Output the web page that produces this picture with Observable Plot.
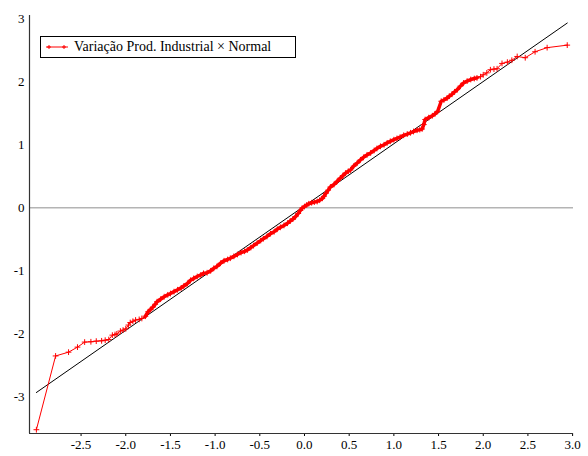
<!DOCTYPE html>
<html>
<head>
<meta charset="utf-8">
<script src="https://cdn.jsdelivr.net/npm/d3@7"></script>
<script src="https://cdn.jsdelivr.net/npm/@observablehq/plot@0.6"></script>
<style>
  html, body { margin: 0; padding: 0; background: #fff; }
  #wrap { position: relative; width: 588px; height: 456px; }
  #legend {
    position: absolute; left: 40px; top: 36px; width: 254px; height: 20px;
    border: 1px solid #000; background: #fff;
    font-family: "Liberation Serif", "Times New Roman", Times, "DejaVu Serif", serif; font-size: 14px;
    display: flex; align-items: center; box-sizing: content-box;
  }
  #legend svg { margin-left: 4px; margin-right: 5px; }
  #chart svg, #chart svg text { font-family: "Liberation Serif", "Times New Roman", Times, "DejaVu Serif", serif; }
</style>
</head>
<body>
<div id="wrap">
  <div id="chart"></div>
  <div id="legend">
    <svg width="24" height="10"><line x1="1" y1="5" x2="23" y2="5" stroke="red" stroke-width="1"/><path d="M4,3v4M2,5h4M19,3v4M17,5h4" stroke="red" stroke-width="1"/></svg>
    <span id="legendText"></span>
  </div>
</div>
<script>
const seriesName = "Variação Prod. Industrial × Normal";
// Theoretical normal quantiles (x) and sample quantiles (y)
const theoretical = [
  -3.00, -2.785, -2.64, -2.54, -2.46, -2.39, -2.33, -2.27, -2.23, -2.19,
  -2.15, -2.12, -2.10, -2.06, -2.03, -2.00, -1.97, -1.95, -1.92, -1.89,
  -1.85, -1.82, -1.78, -1.75, -1.72, -1.70, -1.67, -1.65, -1.61, -1.57,
  -1.53, -1.50, -1.46, -1.42, -1.38, -1.35, -1.31, -1.275, -1.24, -1.20,
  -1.16, -1.13, -1.09, -1.05, -1.015, -0.98, -0.94, -0.90, -0.86, -0.83,
  -0.79, -0.75, -0.71, -0.67, -0.64, -0.60, -0.57, -0.53, -0.49, -0.46,
  -0.42, -0.38, -0.34, -0.305, -0.27, -0.23, -0.19, -0.16, -0.13, -0.10,
  -0.07, -0.045, -0.026, 0.00, 0.025, 0.048, 0.08, 0.11, 0.142, 0.17,
  0.20, 0.216, 0.24, 0.265, 0.29, 0.33, 0.366, 0.40, 0.43, 0.46,
  0.49, 0.515, 0.55, 0.59, 0.626, 0.66, 0.70, 0.74, 0.78, 0.81,
  0.85, 0.89, 0.925, 0.96, 1.00, 1.035, 1.07, 1.11, 1.15, 1.186,
  1.22, 1.26, 1.29, 1.316, 1.335, 1.35, 1.39, 1.43, 1.46, 1.49,
  1.53, 1.56, 1.596, 1.62, 1.65, 1.68, 1.71, 1.745, 1.78, 1.82,
  1.86, 1.90, 1.93, 1.97, 2.00, 2.04, 2.08, 2.12, 2.155, 2.21,
  2.27, 2.32, 2.38, 2.47, 2.58, 2.715, 2.94
];
const sample = [
  -3.52, -2.35, -2.29, -2.21, -2.13, -2.125, -2.115, -2.11, -2.10, -2.09,
  -2.02, -2.01, -2.00, -1.955, -1.94, -1.92, -1.86, -1.82, -1.80, -1.78,
  -1.77, -1.755, -1.72, -1.65, -1.61, -1.58, -1.53, -1.49, -1.45, -1.41,
  -1.38, -1.36, -1.33, -1.30, -1.27, -1.24, -1.20, -1.15, -1.12, -1.09,
  -1.065, -1.04, -1.03, -1.00, -0.96, -0.93, -0.88, -0.84, -0.82, -0.80,
  -0.77, -0.74, -0.71, -0.69, -0.67, -0.63, -0.60, -0.56, -0.52, -0.49,
  -0.455, -0.41, -0.38, -0.34, -0.31, -0.28, -0.245, -0.21, -0.18, -0.14,
  -0.09, -0.04, -0.005, 0.02, 0.045, 0.064, 0.08, 0.09, 0.10, 0.12,
  0.15, 0.18, 0.23, 0.28, 0.33, 0.37, 0.42, 0.47, 0.51, 0.55,
  0.58, 0.60, 0.66, 0.71, 0.76, 0.80, 0.84, 0.87, 0.91, 0.94,
  0.975, 1.00, 1.03, 1.055, 1.08, 1.10, 1.12, 1.15, 1.17, 1.19,
  1.21, 1.23, 1.24, 1.25, 1.32, 1.40, 1.43, 1.46, 1.49, 1.53,
  1.69, 1.71, 1.74, 1.77, 1.80, 1.84, 1.875, 1.93, 1.98, 2.01,
  2.035, 2.05, 2.06, 2.08, 2.11, 2.14, 2.19, 2.20, 2.205, 2.29,
  2.31, 2.34, 2.40, 2.38, 2.475, 2.54, 2.58
];
// Reference line (fitted normal line) end points
const refX = [-3.0, 2.94];
const refY = [-2.93, 2.93];
const xTicks = [-2.5, -2.0, -1.5, -1.0, -0.5, 0.0, 0.5, 1.0, 1.5, 2.0, 2.5, 3.0];
const yTicks = [-3, -2, -1, 0, 1, 2, 3];
const xDomain = [-3.077, 3.01];
const yDomain = [-3.58, 3.05];

document.getElementById("legendText").textContent = seriesName;

const pts = theoretical.map((x, i) => ({x, y: sample[i]}));
const dense = pts.filter(d => d.x > -1.8 && d.x < 1.95);
const ref = refX.map((x, i) => ({x, y: refY[i]}));
const fmtX = d => d3.format(".1f")(d).replace("−", "-");
const fmtY = d => String(d).replace("−", "-");
const serif = "'Liberation Serif', 'Times New Roman', Times, 'DejaVu Serif', serif";

const chart = Plot.plot({
  width: 588,
  height: 456,
  marginLeft: 29,
  marginRight: 15,
  marginTop: 15,
  marginBottom: 23,
  style: {fontFamily: serif, fontSize: "13px", color: "#000", background: "#fff"},
  x: {domain: xDomain, ticks: xTicks, tickFormat: fmtX, tickSize: 3, tickPadding: 3, label: null},
  y: {domain: yDomain, ticks: yTicks, tickFormat: fmtY, tickSize: 0, tickPadding: 5, label: null},
  marks: [
    Plot.ruleY([0], {stroke: "#b4b4b4", strokeWidth: 1.5}),
    Plot.ruleX([xDomain[0]], {stroke: "#333", strokeWidth: 1.2}),
    Plot.ruleY([yDomain[0]], {stroke: "#333", strokeWidth: 1.2}),
    Plot.line(ref, {x: "x", y: "y", stroke: "#000", strokeWidth: 1}),
    Plot.line(pts, {x: "x", y: "y", stroke: "red", strokeWidth: 1}),
    Plot.line(dense, {x: "x", y: "y", stroke: "red", strokeWidth: 3.5, strokeLinejoin: "round"}),
    Plot.dot(pts, {x: "x", y: "y", symbol: "plus", r: 2, stroke: "red", strokeWidth: 1})
  ]
});
document.getElementById("chart").appendChild(chart);
</script>
</body>
</html>
